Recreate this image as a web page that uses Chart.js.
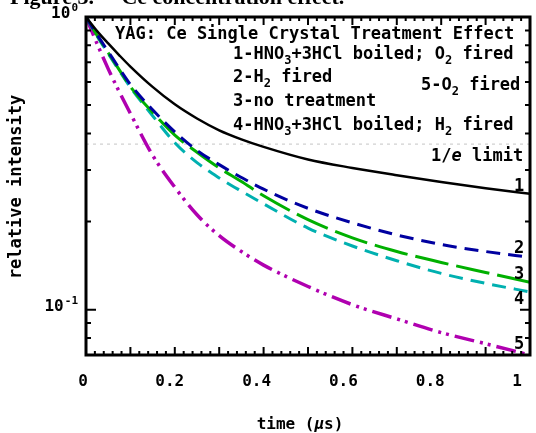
<!DOCTYPE html>
<html>
<head>
<meta charset="utf-8">
<script src="https://cdn.jsdelivr.net/npm/chart.js@4.4.1/dist/chart.umd.min.js"></script>
<style>
  html, body { margin: 0; padding: 0; background: #fff; }
  #wrap { width: 536px; height: 433px; position: relative; }
</style>
</head>
<body>
<div id="wrap"><canvas id="chart"></canvas></div>
<script>
// time axis (microseconds) and the five decay curves
const timeUs = [0, 0.025, 0.05, 0.075, 0.1, 0.15, 0.2, 0.25, 0.3, 0.35, 0.4, 0.5, 0.6, 0.7, 0.8, 0.9, 1.0]
const hno3O2Fired = [1, 0.895, 0.812, 0.74, 0.677, 0.577, 0.503, 0.45, 0.41, 0.382, 0.36, 0.326, 0.305, 0.288, 0.273, 0.26, 0.249]
const h2Fired = [1, 0.87, 0.762, 0.667, 0.588, 0.482, 0.405, 0.35, 0.313, 0.283, 0.258, 0.222, 0.198, 0.18, 0.167, 0.158, 0.151]
const noTreatment = [1, 0.865, 0.755, 0.66, 0.578, 0.472, 0.395, 0.345, 0.305, 0.274, 0.245, 0.203, 0.176, 0.158, 0.145, 0.134, 0.124]
const hno3H2Fired = [1, 0.86, 0.75, 0.655, 0.575, 0.46, 0.372, 0.318, 0.282, 0.254, 0.23, 0.19, 0.165, 0.147, 0.133, 0.123, 0.115]
const o2Fired = [1, 0.81, 0.665, 0.555, 0.468, 0.337, 0.262, 0.211, 0.179, 0.158, 0.142, 0.12, 0.104, 0.093, 0.0835, 0.0765, 0.07]
const eLimit = 1 / Math.E

const xTickValues = [0, 0.2, 0.4, 0.6, 0.8, 1]
const xTickLabels = ["0", "0.2", "0.4", "0.6", "0.8", "1"]
const yTickValues = [1, 0.1]
const yTickExponents = ["0", "-1"]

const legendLines = [
  "1-HNO_3+3HCl boiled; O_2 fired",
  "2-H_2 fired",
  "3-no treatment",
  "4-HNO_3+3HCl boiled; H_2 fired"
]

const MONO = '"DejaVu Sans Mono", monospace'

function toPoints(values) {
  return timeUs.map((t, i) => ({ x: t, y: values[i] }))
}

// small rich-text helper: _x subscript, ^{..} superscript, *..* italic
function drawRich(ctx, str, x, y, size, align) {
  const parts = []
  let buf = ""
  const flush = () => { if (buf) parts.push({ t: buf, k: "n" }); buf = "" }
  for (let i = 0; i < str.length; i++) {
    const c = str[i]
    if (c === "_") { flush(); parts.push({ t: str[i + 1], k: "sub" }); i++; continue }
    if (c === "^") { flush(); const end = str.indexOf("}", i); parts.push({ t: str.slice(i + 2, end), k: "sup" }); i = end; continue }
    if (c === "*") { flush(); const end = str.indexOf("*", i + 1); parts.push({ t: str.slice(i + 1, end), k: "it" }); i = end; continue }
    buf += c
  }
  flush()
  const small = Math.round(size * 0.7)
  const fontFor = k => {
    if (k === "sub" || k === "sup") return `bold ${small}px ${MONO}`
    if (k === "it") return `italic bold ${size}px ${MONO}`
    return `bold ${size}px ${MONO}`
  }
  let total = 0
  parts.forEach(p => { ctx.font = fontFor(p.k); p.w = ctx.measureText(p.t).width; total += p.w })
  let cx = align === "center" ? x - total / 2 : align === "right" ? x - total : x
  ctx.textAlign = "left"
  ctx.textBaseline = "alphabetic"
  parts.forEach(p => {
    ctx.font = fontFor(p.k)
    let dy = 0
    if (p.k === "sub") dy = size * 0.3
    if (p.k === "sup") dy = -size * 0.42
    ctx.fillText(p.t, cx, y + dy)
    cx += p.w
  })
}

const framePlugin = {
  id: "frame",
  afterDraw(chart) {
    const ctx = chart.ctx
    const { left, right, top, bottom } = chart.chartArea
    const xs = chart.scales.x
    const ys = chart.scales.y
    ctx.save()
    ctx.fillStyle = "#000"
    ctx.strokeStyle = "#000"

    // inward ticks
    ctx.lineWidth = 2
    ctx.beginPath()
    for (let i = 0; i <= 50; i++) {
      const px = xs.getPixelForValue(i * 0.02)
      const len = i % 5 === 0 ? 8 : 4
      ctx.moveTo(px, bottom); ctx.lineTo(px, bottom - len)
      ctx.moveTo(px, top); ctx.lineTo(px, top + len)
    }
    const yMinor = [0.07, 0.08, 0.09, 0.2, 0.3, 0.4, 0.5, 0.6, 0.7, 0.8, 0.9]
    yMinor.concat(yTickValues).forEach(v => {
      const py = ys.getPixelForValue(v)
      const len = yTickValues.includes(v) ? 10 : 5
      ctx.moveTo(left, py); ctx.lineTo(left + len, py)
      ctx.moveTo(right, py); ctx.lineTo(right - len, py)
    })
    ctx.stroke()

    // box
    ctx.lineWidth = 3
    ctx.strokeRect(left, top, right - left, bottom - top)

    // x tick labels
    ctx.font = `bold 16px ${MONO}`
    ctx.textAlign = "center"
    ctx.textBaseline = "alphabetic"
    xTickValues.forEach((v, i) => {
      ctx.fillText(xTickLabels[i], xs.getPixelForValue(v) - 3 - 10 * v, 386)
    })

    // y tick labels 10^n
    yTickValues.forEach((v, i) => {
      const py = ys.getPixelForValue(v)
      ctx.font = `bold 11px ${MONO}`
      ctx.textAlign = "right"
      const supW = ctx.measureText(yTickExponents[i]).width
      ctx.fillText(yTickExponents[i], 78, py - 6)
      ctx.font = `bold 16px ${MONO}`
      ctx.fillText("10", 78 - supW - 1, py + 1)
    })

    // axis titles
    drawRich(ctx, "time (*\u03bc*s)", 300, 429, 16, "center")
    ctx.save()
    ctx.translate(17, 187)
    ctx.rotate(-Math.PI / 2)
    ctx.font = `bold 17px ${MONO}`
    ctx.textAlign = "center"
    ctx.textBaseline = "middle"
    ctx.fillText("relative intensity", 0, 0)
    ctx.restore()

    // annotations
    drawRich(ctx, "YAG: Ce Single Crystal Treatment Effect", 115, 39, 17, "left")
    const legendBase = [59, 82, 106, 130]
    legendLines.forEach((s, i) => drawRich(ctx, s, 233, legendBase[i], 17, "left"))
    drawRich(ctx, "5-O_2 fired", 421, 90, 17, "left")
    drawRich(ctx, "1/*e* limit", 431, 161, 17, "left")

    // curve numbers at the right end
    const numBase = [191, 253, 279, 304, 349]
    numBase.forEach((b, i) => drawRich(ctx, String(i + 1), 519, b, 17, "center"))

    // page caption, cut off by the top edge
    ctx.font = 'bold 22px "Liberation Serif", serif'
    ctx.textAlign = "left"
    ctx.fillText("Figure 3.     Ce concentration effect.", 10, 4)
    ctx.restore()
  }
}

const lineDefaults = {
  pointRadius: 0,
  fill: false,
  cubicInterpolationMode: "monotone",
  borderCapStyle: "butt"
}

new Chart(document.getElementById("chart"), {
  type: "line",
  data: {
    datasets: [
      { ...lineDefaults, label: "1/e", data: [{ x: 0, y: eLimit }, { x: 1, y: eLimit }], borderColor: "#c4c4c4", borderWidth: 1, borderDash: [3, 4], order: 6 },
      { ...lineDefaults, label: "1", data: toPoints(hno3O2Fired), borderColor: "#000000", borderWidth: 2.5, order: 1 },
      { ...lineDefaults, label: "2", data: toPoints(h2Fired), borderColor: "#0000a0", borderWidth: 3, borderDash: [14, 8], order: 2 },
      { ...lineDefaults, label: "3", data: toPoints(noTreatment), borderColor: "#00b000", borderWidth: 3, borderDash: [34, 8], order: 3 },
      { ...lineDefaults, label: "4", data: toPoints(hno3H2Fired), borderColor: "#00b0b0", borderWidth: 3, borderDash: [14, 8], order: 4 },
      { ...lineDefaults, label: "5", data: toPoints(o2Fired), borderColor: "#b000b0", borderWidth: 3.5, borderDash: [20, 6, 3, 5, 3, 6], order: 5 }
    ]
  },
  options: {
    responsive: true,
    maintainAspectRatio: false,
    animation: false,
    layout: { padding: { left: 86, top: 17, right: 6, bottom: 78 } },
    plugins: {
      legend: { display: false },
      tooltip: { enabled: false }
    },
    scales: {
      x: { type: "linear", min: 0, max: 1, display: false },
      y: { type: "logarithmic", min: 0.07, max: 1, display: false }
    }
  },
  plugins: [framePlugin]
})
</script>
</body>
</html>
